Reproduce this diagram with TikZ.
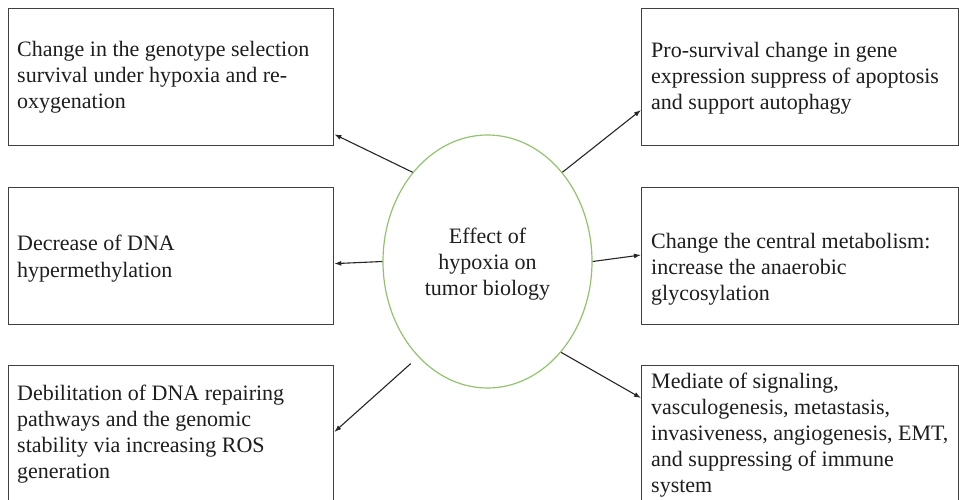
\documentclass[tikz,border=0pt]{standalone}
\usepackage{fontspec}
\setmainfont{Liberation Serif}
\usetikzlibrary{shapes.geometric,arrows.meta,calc}
\definecolor{boxline}{RGB}{64,64,64}
\definecolor{ellgreen}{RGB}{146,196,110}
\definecolor{txt}{RGB}{30,30,30}
\begin{document}
\begin{tikzpicture}[x=1pt,y=-1pt,
  boxst/.style={draw=boxline, line width=1.3pt, rectangle, inner sep=0pt, anchor=north west},
  txtst/.style={anchor=base west, inner sep=0pt, text=txt, font=\fontsize{22}{26}\selectfont},
  arr/.style={draw=black!85, line width=1.1pt, -{Latex[length=7pt,width=5pt]}}]
\useasboundingbox (0,0) rectangle (959,500);
\fill[white] (0,0) rectangle (959,500);
% boxes
\node[boxst, minimum width=325, minimum height=137] (b1) at (8,8) {};
\node[boxst, minimum width=325, minimum height=137] (b2) at (8,187) {};
\node[boxst, minimum width=325, minimum height=150] (b3) at (8,365) {};
\node[boxst, minimum width=317, minimum height=137] (b4) at (641,8) {};
\node[boxst, minimum width=317, minimum height=137] (b5) at (641,187) {};
\node[boxst, minimum width=317, minimum height=150] (b6) at (641,365) {};
% ellipse
\node[ellipse, draw=ellgreen, line width=1.2pt, minimum width=209, minimum height=253, inner sep=0pt] (ell) at (487.5,261.5) {};
% texts
\node[txtst] (t1) at (17,57) {\parbox[t]{320pt}{\raggedright Change in the genotype selection\\survival under hypoxia and re-\\oxygenation}};
\node[txtst] (t2) at (17,251) {\parbox[t]{320pt}{\raggedright Decrease of DNA\\hypermethylation}};
\node[txtst] (t3) at (17,400) {\parbox[t]{320pt}{\raggedright Debilitation of DNA repairing\\pathways and the genomic\\stability via increasing ROS\\generation}};
\node[txtst] (t4) at (651,58) {\parbox[t]{305pt}{\raggedright Pro-survival change in gene\\expression suppress of apoptosis\\and support autophagy}};
\node[txtst] (t5) at (651,248) {\parbox[t]{305pt}{\raggedright Change the central metabolism:\\increase the anaerobic\\glycosylation}};
\node[txtst] (t6) at (651,388) {\parbox[t]{305pt}{\raggedright Mediate of signaling,\\vasculogenesis, metastasis,\\invasiveness, angiogenesis, EMT,\\and suppressing of immune\\system}};
\node[txtst, anchor=base] (te) at (487.5,243) {\parbox[t]{170pt}{\centering Effect of\\hypoxia on\\tumor biology}};
% arrow targets
\coordinate (a1) at ($(b1.south east)+(0,-12)$);
\coordinate (a2) at ($(b2.east)+(0,7.5)$);
\coordinate (a3) at ($(b3.north east)+(0,67)$);
\coordinate (a4) at ($(b4.north west)+(0,102)$);
\coordinate (a5) at ($(b5.north west)+(0,68)$);
\coordinate (a6) at ($(b6.north west)+(0,33)$);
% arrows
\draw[arr] (ell.130) -- (a1);
\draw[arr] (ell.180) -- (a2);
\draw[arr, shorten <=10pt] (ell.234) -- (a3);
\draw[arr] (ell.50) -- (a4);
\draw[arr] (ell.0) -- (a5);
\draw[arr] (ell.-51) -- (a6);
\end{tikzpicture}
\end{document}
